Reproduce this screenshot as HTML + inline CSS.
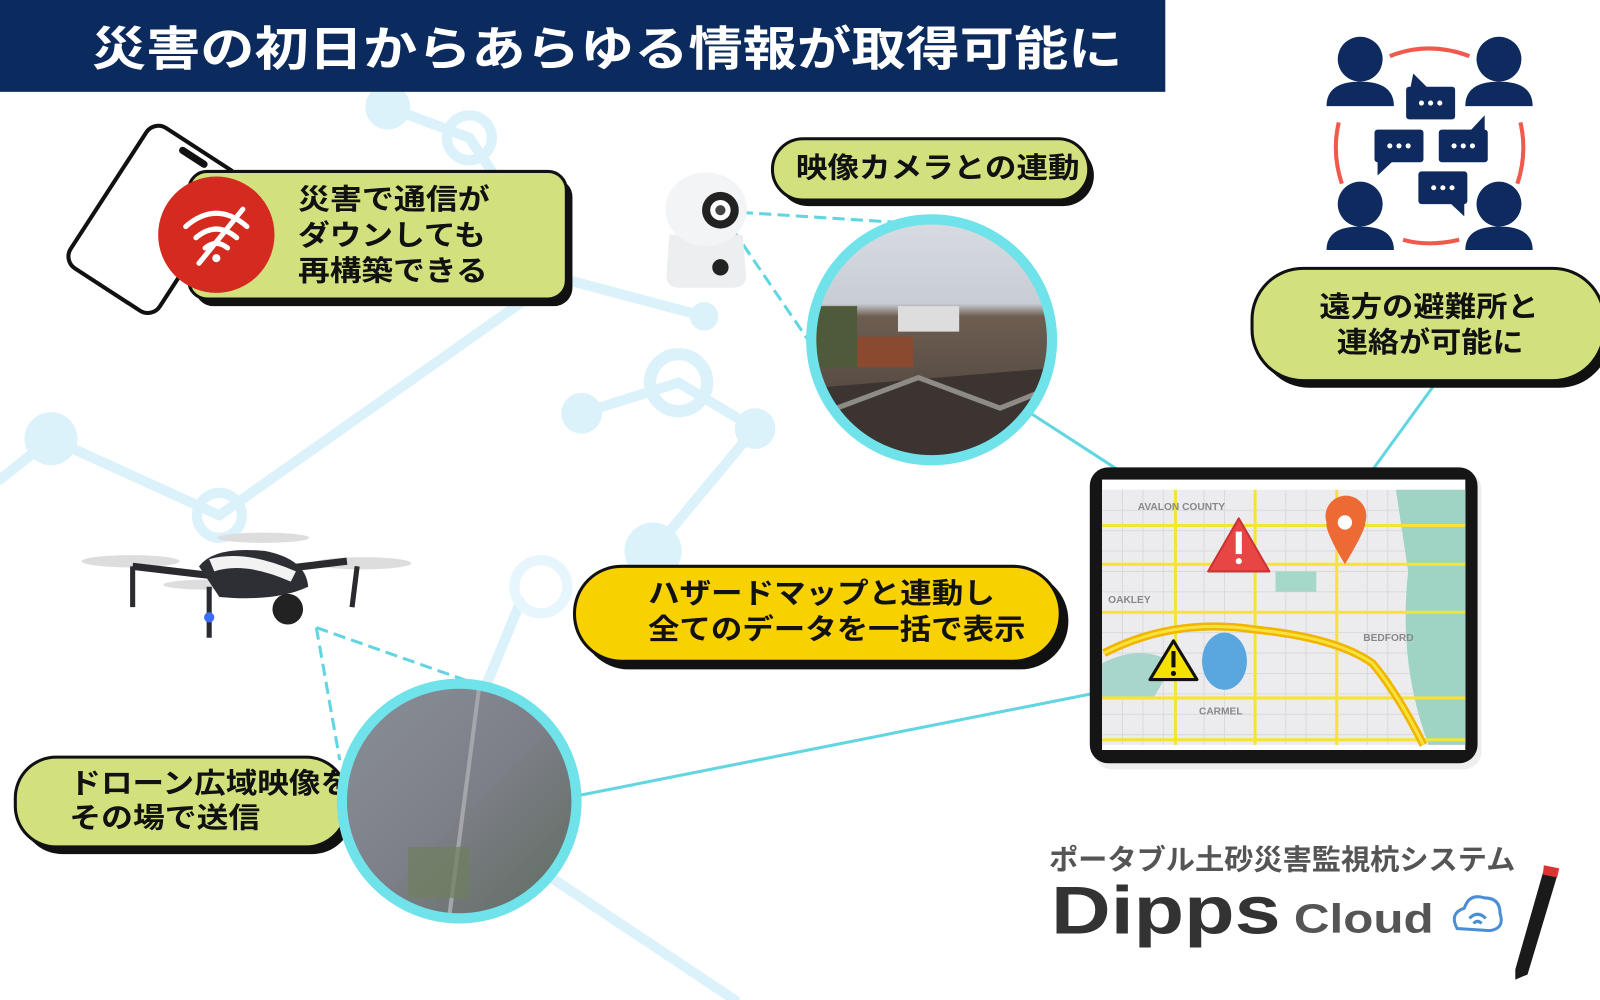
<!DOCTYPE html>
<html><head><meta charset="utf-8"><style>
html,body{margin:0;padding:0;background:#fff;overflow:hidden}
svg{display:block}
text{font-family:"Liberation Sans","Noto Sans CJK JP",sans-serif;font-weight:bold}
</style></head><body>
<svg width="1600" height="1000" viewBox="0 0 1568 980" preserveAspectRatio="none" xmlns="http://www.w3.org/2000/svg">
<defs>
<linearGradient id="sky" x1="0" y1="0" x2="0" y2="1"><stop offset="0" stop-color="#d9dde3"/><stop offset="0.35" stop-color="#c8cdd4"/><stop offset="0.4" stop-color="#6e5e52"/><stop offset="1" stop-color="#3f3833"/></linearGradient>
<linearGradient id="aer" x1="0" y1="0" x2="1" y2="1"><stop offset="0" stop-color="#8a8f98"/><stop offset="0.5" stop-color="#7d8088"/><stop offset="1" stop-color="#5e6a5e"/></linearGradient>
<clipPath id="c1"><circle cx="913" cy="333" r="118"/></clipPath>
<clipPath id="c2"><circle cx="450" cy="785" r="113"/></clipPath>
</defs>
<!-- background network -->
<g stroke="#dcf2fb" stroke-width="10" fill="none" stroke-linecap="round">
<line x1="380" y1="105" x2="460" y2="135"/><line x1="460" y1="135" x2="490" y2="180"/>
<line x1="540" y1="270" x2="690" y2="310"/>
<line x1="50" y1="430" x2="215" y2="505"/><line x1="0" y1="470" x2="50" y2="430"/>
<line x1="215" y1="505" x2="520" y2="290"/>
<line x1="570" y1="405" x2="665" y2="375"/><line x1="665" y1="375" x2="740" y2="420"/>
<line x1="740" y1="420" x2="640" y2="540"/>
<line x1="510" y1="590" x2="440" y2="760"/>
<line x1="540" y1="860" x2="720" y2="980"/>
</g>
<g fill="#dcf2fb">
<circle cx="380" cy="105" r="22"/><circle cx="460" cy="135" r="22" fill="none" stroke="#dcf2fb" stroke-width="10"/>
<circle cx="690" cy="310" r="14"/><circle cx="50" cy="430" r="26"/>
<circle cx="215" cy="505" r="22" fill="none" stroke="#dcf2fb" stroke-width="10"/>
<circle cx="570" cy="405" r="20"/><circle cx="665" cy="375" r="28" fill="none" stroke="#dcf2fb" stroke-width="12"/>
<circle cx="740" cy="420" r="20"/><circle cx="640" cy="540" r="28"/>
<circle cx="530" cy="575" r="26" fill="none" stroke="#e6f6fc" stroke-width="10"/>
</g>
<!-- header -->
<rect x="0" y="0" width="1142" height="90" fill="#0b2a5e"/>
<text x="90" y="64" font-size="46" fill="#fff" textLength="1010" lengthAdjust="spacingAndGlyphs">災害の初日からあらゆる情報が取得可能に</text>
<!-- connectors -->
<g stroke="#62d6e0" stroke-width="3" fill="none">
<line x1="708" y1="207" x2="912" y2="220" stroke-dasharray="12,6"/>
<line x1="708" y1="210" x2="800" y2="345" stroke-dasharray="12,6"/>
<line x1="1010" y1="405" x2="1180" y2="515"/>
<line x1="1320" y1="495" x2="1405" y2="378"/>
<line x1="565" y1="780" x2="1130" y2="668"/>
<line x1="310" y1="615" x2="333" y2="745" stroke-dasharray="12,6"/>
<line x1="310" y1="615" x2="460" y2="668" stroke-dasharray="12,6"/>
</g>
<!-- phone -->
<g transform="translate(150,215) rotate(33)">
<rect x="-52" y="-82" width="104" height="164" rx="14" fill="#fff" stroke="#111" stroke-width="4"/>
<rect x="-16" y="-76" width="32" height="7" rx="3.5" fill="#111"/>
</g>
<!-- phone label -->
<rect x="191" y="175" width="370" height="125" rx="18" fill="#111"/>
<rect x="185" y="168" width="370" height="125" rx="18" fill="#d2e17d" stroke="#111" stroke-width="3"/>
<circle cx="212" cy="230" r="57" fill="#d42a1f"/>
<g stroke="#fff" stroke-width="5" fill="none" stroke-linecap="round">
<path d="M182 222 Q212 196 242 222"/><path d="M192 233 Q212 216 232 233"/><path d="M201 243 Q212 234 223 243"/>
<line x1="195" y1="258" x2="238" y2="205"/>
</g>
<circle cx="212" cy="253" r="4" fill="#fff"/>
<g font-size="28" fill="#111"><text x="292" y="205" textLength="188" lengthAdjust="spacingAndGlyphs">災害で通信が</text><text x="292" y="240" textLength="184" lengthAdjust="spacingAndGlyphs">ダウンしても</text><text x="292" y="275" textLength="186" lengthAdjust="spacingAndGlyphs">再構築できる</text></g>
<!-- camera -->
<path d="M656 230 L728 230 L731 270 Q731 282 718 282 L666 282 Q653 282 653 270Z" fill="#eceeef"/>
<ellipse cx="692" cy="205" rx="40" ry="36" fill="#f3f4f5"/>
<circle cx="706" cy="206" r="18" fill="#222"/><circle cx="706" cy="206" r="10" fill="#fff"/><circle cx="706" cy="206" r="5" fill="#444"/>
<circle cx="706" cy="262" r="8" fill="#222"/>
<!-- camera label -->
<rect x="762" y="142" width="310" height="60" rx="30" fill="#111"/>
<rect x="757" y="136" width="310" height="60" rx="30" fill="#d2e17d" stroke="#111" stroke-width="3"/>
<text x="780" y="174" font-size="28" fill="#111" textLength="278" lengthAdjust="spacingAndGlyphs">映像カメラとの連動</text>
<!-- fire photo -->
<g clip-path="url(#c1)">
<rect x="790" y="210" width="250" height="250" fill="url(#sky)"/>
<rect x="880" y="300" width="60" height="25" fill="#ddd"/>
<rect x="835" y="330" width="60" height="30" fill="#8a4a30"/>
<rect x="800" y="300" width="40" height="60" fill="#4f5a3a"/>
<path d="M800 380 L1040 360 L1040 460 L800 460Z" fill="#3b3430"/>
<path d="M820 400 L900 370 L980 400 L1030 380" stroke="#8e8a86" stroke-width="5" fill="none"/>
</g>
<circle cx="913" cy="333" r="118" fill="none" stroke="#6fe2ea" stroke-width="10"/>
<!-- people icon -->
<g fill="#0f2a5e">
<circle cx="1333" cy="58" r="22"/><path d="M1300 104 Q1300 80 1333 80 Q1366 80 1366 104Z"/>
<circle cx="1469" cy="58" r="22"/><path d="M1436 104 Q1436 80 1469 80 Q1502 80 1502 104Z"/>
<circle cx="1333" cy="200" r="22"/><path d="M1300 245 Q1300 222 1333 222 Q1366 222 1366 245Z"/>
<circle cx="1469" cy="200" r="22"/><path d="M1436 245 Q1436 222 1469 222 Q1502 222 1502 245Z"/>
<rect x="1378" y="85" width="48" height="32" rx="3"/><path d="M1382 87 L1385 72 L1400 87Z"/>
<rect x="1347" y="127" width="48" height="32" rx="3"/><path d="M1350 157 L1350 172 L1366 157Z"/>
<rect x="1410" y="127" width="48" height="32" rx="3"/><path d="M1440 129 L1455 113 L1455 129Z"/>
<rect x="1390" y="168" width="48" height="32" rx="3"/><path d="M1420 198 L1435 212 L1435 198Z"/>
</g>
<g fill="#fff"><circle cx="1393" cy="101" r="2.5"/><circle cx="1402" cy="101" r="2.5"/><circle cx="1411" cy="101" r="2.5"/>
<circle cx="1362" cy="143" r="2.5"/><circle cx="1371" cy="143" r="2.5"/><circle cx="1380" cy="143" r="2.5"/>
<circle cx="1425" cy="143" r="2.5"/><circle cx="1434" cy="143" r="2.5"/><circle cx="1443" cy="143" r="2.5"/>
<circle cx="1405" cy="184" r="2.5"/><circle cx="1414" cy="184" r="2.5"/><circle cx="1423" cy="184" r="2.5"/></g>
<g stroke="#ef5a4c" stroke-width="4" fill="none"><path d="M1362 55 Q1400 40 1440 55"/><path d="M1312 120 Q1305 150 1315 180"/><path d="M1490 120 Q1497 150 1487 180"/><path d="M1375 235 Q1400 242 1430 235"/></g>
<!-- shelter label -->
<rect x="1233" y="270" width="345" height="110" rx="50" fill="#111"/>
<rect x="1227" y="263" width="345" height="110" rx="50" fill="#d2e17d" stroke="#111" stroke-width="3"/>
<g font-size="28" fill="#111"><text x="1293" y="310" textLength="215" lengthAdjust="spacingAndGlyphs">遠方の避難所と</text><text x="1310" y="345" textLength="183" lengthAdjust="spacingAndGlyphs">連絡が可能に</text></g>
<!-- tablet -->
<rect x="1072" y="462" width="380" height="292" rx="18" fill="#ddd" opacity="0.5"/>
<rect x="1068" y="458" width="380" height="290" rx="18" fill="#151515"/>
<rect x="1080" y="470" width="356" height="265" fill="#fff"/>
<rect x="1080" y="480" width="356" height="250" fill="#ececef"/>
<g stroke="#dadade" stroke-width="1"><path d="M1080 500H1436M1080 520H1436M1080 540H1436M1080 560H1436M1080 580H1436M1080 600H1436M1080 620H1436M1080 640H1436M1080 660H1436M1080 680H1436M1080 700H1436M1080 720H1436"/><path d="M1100 480V730M1120 480V730M1140 480V730M1180 480V730M1200 480V730M1260 480V730M1280 480V730M1340 480V730M1360 480V730M1400 480V730"/></g>
<path d="M1368 480H1436V730H1400 Q1370 650 1380 560Z" fill="#9fd3c3"/>
<rect x="1250" y="560" width="40" height="20" fill="#a5d8c8"/>
<path d="M1080 650 Q1120 630 1150 650 L1130 685 H1080Z" fill="#a8d5cc"/>
<ellipse cx="1200" cy="648" rx="22" ry="28" fill="#5aa7e0"/>
<g stroke="#f5e23a" stroke-width="3"><path d="M1080 515H1436M1080 553H1436M1080 600H1436M1080 684H1436M1080 725H1436M1152 480V730M1230 480V730M1310 480V730"/></g>
<path d="M1082 640 Q1150 605 1230 617 Q1310 625 1345 650 Q1370 680 1395 730" stroke="#f1b400" stroke-width="8" fill="none"/>
<path d="M1082 640 Q1150 605 1230 617 Q1310 625 1345 650 Q1370 680 1395 730" stroke="#f5e23a" stroke-width="3" fill="none"/>
<g font-size="10" fill="#888" font-weight="normal"><text x="1115" y="500">AVALON COUNTY</text><text x="1086" y="591">OAKLEY</text><text x="1336" y="628">BEDFORD</text><text x="1175" y="700">CARMEL</text></g>
<path d="M1214 508 L1244 560 L1184 560Z" fill="#e84545" stroke="#c33" stroke-width="2" stroke-linejoin="round"/>
<rect x="1211" y="521" width="6" height="22" fill="#fff"/><circle cx="1214" cy="550" r="3" fill="#fff"/>
<path d="M1150 628 L1173 666 L1127 666Z" fill="#f5e000" stroke="#111" stroke-width="3" stroke-linejoin="round"/>
<rect x="1148" y="638" width="4" height="16" fill="#111"/><circle cx="1150" cy="660" r="2.5" fill="#111"/>
<path d="M1318 553 Q1298 520 1300 512 A20 20 0 1 1 1338 512 Q1338 520 1318 553Z" fill="#ee6a35"/>
<circle cx="1318" cy="512" r="7" fill="#fff"/>
<!-- yellow label -->
<rect x="569" y="561" width="478" height="95" rx="47" fill="#111"/>
<rect x="563" y="555" width="476" height="93" rx="46" fill="#f7d100" stroke="#111" stroke-width="3"/>
<g font-size="28" fill="#111"><text x="635" y="591" textLength="340" lengthAdjust="spacingAndGlyphs">ハザードマップと連動し</text><text x="635" y="626" textLength="370" lengthAdjust="spacingAndGlyphs">全てのデータを一括で表示</text></g>
<!-- drone -->
<g>
<ellipse cx="128" cy="550" rx="48" ry="6" fill="#ddd"/><ellipse cx="258" cy="527" rx="45" ry="5" fill="#ddd"/><ellipse cx="355" cy="552" rx="48" ry="6" fill="#ddd"/><ellipse cx="205" cy="573" rx="45" ry="5" fill="#ddd"/>
<path d="M130 555 L215 565 L340 550" stroke="#2b2b2f" stroke-width="7" fill="none"/>
<path d="M205 575 L205 625 M130 555 L130 595 M350 555 L345 595" stroke="#2b2b2f" stroke-width="5"/>
<path d="M195 555 Q210 535 260 540 Q300 548 302 575 Q270 590 215 585Z" fill="#2e2f35"/>
<path d="M205 548 Q240 538 290 560 L285 570 Q240 550 210 560Z" fill="#f2f2f2"/>
<circle cx="282" cy="597" r="15" fill="#222"/>
<circle cx="205" cy="605" r="5" fill="#3b6cff"/>
</g>
<!-- drone label -->
<rect x="21" y="749" width="325" height="88" rx="40" fill="#111"/>
<rect x="15" y="742" width="325" height="88" rx="40" fill="#d2e17d" stroke="#111" stroke-width="3"/>
<g font-size="28" fill="#111"><text x="68" y="777" textLength="277" lengthAdjust="spacingAndGlyphs">ドローン広域映像を</text><text x="68" y="811" textLength="187" lengthAdjust="spacingAndGlyphs">その場で送信</text></g>
<!-- aerial -->
<g clip-path="url(#c2)">
<rect x="330" y="665" width="240" height="240" fill="url(#aer)"/>
<path d="M470 670 L440 900" stroke="#a4a6ac" stroke-width="4"/>
<rect x="400" y="830" width="60" height="50" fill="#6f7f5e" opacity="0.7"/>
</g>
<circle cx="450" cy="785" r="115" fill="none" stroke="#6fe2ea" stroke-width="10"/>
<!-- logo -->
<text x="1028" y="852" font-size="28" fill="#555" textLength="457" lengthAdjust="spacingAndGlyphs">ポータブル土砂災害監視杭システム</text>
<text x="1030" y="915" font-size="66" fill="#333" textLength="225" lengthAdjust="spacingAndGlyphs">Dipps</text>
<text x="1268" y="914" font-size="40" fill="#555" font-weight="normal" textLength="137" lengthAdjust="spacingAndGlyphs">Cloud</text>
<g stroke="#4a8fd6" stroke-width="3" fill="none"><path d="M1428 910 Q1420 895 1435 890 Q1440 875 1455 880 Q1470 880 1470 895 Q1475 910 1460 912Z"/><path d="M1440 900 Q1448 892 1456 900"/><path d="M1444 905 Q1448 901 1452 905"/></g>
<path d="M1513 852 L1527 855 L1497 955 L1485 960 L1485 950Z" fill="#1a1a1a"/>
<path d="M1513 848 L1528 851 L1526 860 L1512 857Z" fill="#d33"/>
</svg>
</body></html>
